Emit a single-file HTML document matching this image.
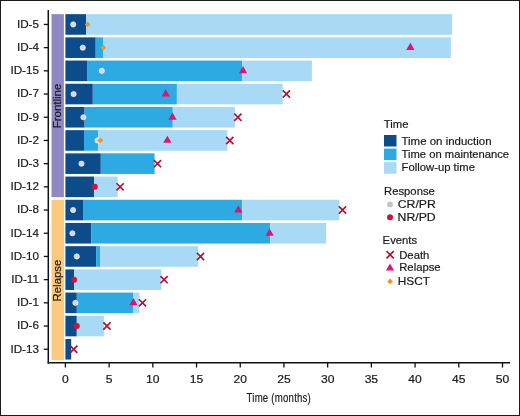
<!DOCTYPE html>
<html><head><meta charset="utf-8"><style>
html,body{margin:0;padding:0;background:#fff;}
body{width:520px;height:416px;overflow:hidden;}
svg{display:block;font-family:"Liberation Sans",sans-serif;will-change:transform;}
text{fill:#1a1a1a;stroke:#1a1a1a;stroke-width:0.2px;}
</style></head><body>
<svg width="520" height="416" viewBox="0 0 520 416">
<rect x="0" y="0" width="520" height="416" fill="#fff"/>
<rect x="51.5" y="14.15" width="12.4" height="183" fill="#8f88c2"/>
<rect x="51.5" y="199.75" width="12.6" height="160.4" fill="#fdc97f"/>
<text transform="translate(60.6 106) rotate(-90) scale(1.0 1.03)" text-anchor="middle" font-size="11.5">Frontline</text>
<text transform="translate(60.6 280.55) rotate(-90) scale(1.0 1.03)" text-anchor="middle" font-size="11.4">Relapse</text>
<rect x="65.4" y="14.15" width="20.8" height="20.6" fill="#0d4c8a"/>
<rect x="86.2" y="14.15" width="366" height="20.6" fill="#a8d9f5"/>
<circle cx="73.2" cy="24.45" r="2.6" fill="#d6d8de" stroke="#f2f4f8" stroke-width="0.7"/>
<path d="M87.6 21.6L90.45 24.45L87.6 27.3L84.75 24.45Z" fill="#f0952a"/>
<text transform="translate(39 28.25) scale(1.035 1.02)" text-anchor="end" font-size="11.3">ID-5</text>
<line x1="43.8" y1="24.45" x2="48" y2="24.45" stroke="#111" stroke-width="1.3"/>
<rect x="65.4" y="37.35" width="30.3" height="20.6" fill="#0d4c8a"/>
<rect x="95.7" y="37.35" width="7.3" height="20.6" fill="#2eaae3"/>
<rect x="103" y="37.35" width="347.8" height="20.6" fill="#a8d9f5"/>
<circle cx="82.8" cy="47.65" r="2.6" fill="#d6d8de" stroke="#f2f4f8" stroke-width="0.7"/>
<path d="M103.3 44.8L106.15 47.65L103.3 50.5L100.45 47.65Z" fill="#f0952a"/>
<path d="M410.4 42.85L414.56 50.05L406.24 50.05Z" fill="#dc1478"/>
<text transform="translate(39 50.95) scale(1.035 1.02)" text-anchor="end" font-size="11.3">ID-4</text>
<line x1="43.8" y1="47.65" x2="48" y2="47.65" stroke="#111" stroke-width="1.3"/>
<rect x="65.4" y="60.55" width="21.6" height="20.6" fill="#0d4c8a"/>
<rect x="87" y="60.55" width="155.1" height="20.6" fill="#2eaae3"/>
<rect x="242.1" y="60.55" width="69.8" height="20.6" fill="#a8d9f5"/>
<circle cx="101.8" cy="70.85" r="2.6" fill="#d6d8de" stroke="#f2f4f8" stroke-width="0.7"/>
<path d="M243 66.05L247.16 73.25L238.84 73.25Z" fill="#dc1478"/>
<text transform="translate(39 74.15) scale(1.035 1.02)" text-anchor="end" font-size="11.3">ID-15</text>
<line x1="43.8" y1="70.85" x2="48" y2="70.85" stroke="#111" stroke-width="1.3"/>
<rect x="65.4" y="83.75" width="27.4" height="20.6" fill="#0d4c8a"/>
<rect x="92.8" y="83.75" width="84.1" height="20.6" fill="#2eaae3"/>
<rect x="176.9" y="83.75" width="105.7" height="20.6" fill="#a8d9f5"/>
<circle cx="73.6" cy="94.05" r="2.6" fill="#d6d8de" stroke="#f2f4f8" stroke-width="0.7"/>
<path d="M165.7 89.25L169.86 96.45L161.54 96.45Z" fill="#dc1478"/>
<path d="M282.8 90.45L290 97.65M290 90.45L282.8 97.65" stroke="#b40f32" stroke-width="1.65" fill="none"/>
<text transform="translate(39 97.35) scale(1.035 1.02)" text-anchor="end" font-size="11.3">ID-7</text>
<line x1="43.8" y1="94.05" x2="48" y2="94.05" stroke="#111" stroke-width="1.3"/>
<rect x="65.4" y="106.95" width="19.2" height="20.6" fill="#0d4c8a"/>
<rect x="84.6" y="106.95" width="88.2" height="20.6" fill="#2eaae3"/>
<rect x="172.8" y="106.95" width="62.1" height="20.6" fill="#a8d9f5"/>
<circle cx="83.4" cy="117.25" r="2.6" fill="#d6d8de" stroke="#f2f4f8" stroke-width="0.7"/>
<path d="M172.5 112.45L176.66 119.65L168.34 119.65Z" fill="#dc1478"/>
<path d="M234.3 113.65L241.5 120.85M241.5 113.65L234.3 120.85" stroke="#b40f32" stroke-width="1.65" fill="none"/>
<text transform="translate(39 120.55) scale(1.035 1.02)" text-anchor="end" font-size="11.3">ID-9</text>
<line x1="43.8" y1="117.25" x2="48" y2="117.25" stroke="#111" stroke-width="1.3"/>
<rect x="65.4" y="130.15" width="18.6" height="20.6" fill="#0d4c8a"/>
<rect x="84" y="130.15" width="14.2" height="20.6" fill="#2eaae3"/>
<rect x="98.2" y="130.15" width="129.2" height="20.6" fill="#a8d9f5"/>
<circle cx="97.5" cy="140.45" r="2.6" fill="#d6d8de" stroke="#f2f4f8" stroke-width="0.7"/>
<path d="M100.3 137.6L103.15 140.45L100.3 143.3L97.45 140.45Z" fill="#f0952a"/>
<path d="M167.4 135.65L171.56 142.85L163.24 142.85Z" fill="#dc1478"/>
<path d="M226.2 136.85L233.4 144.05M233.4 136.85L226.2 144.05" stroke="#b40f32" stroke-width="1.65" fill="none"/>
<text transform="translate(39 143.75) scale(1.035 1.02)" text-anchor="end" font-size="11.3">ID-2</text>
<line x1="43.8" y1="140.45" x2="48" y2="140.45" stroke="#111" stroke-width="1.3"/>
<rect x="65.4" y="153.35" width="35.4" height="20.6" fill="#0d4c8a"/>
<rect x="100.8" y="153.35" width="53.8" height="20.6" fill="#2eaae3"/>
<circle cx="81.5" cy="163.65" r="2.6" fill="#d6d8de" stroke="#f2f4f8" stroke-width="0.7"/>
<path d="M153.9 160.05L161.1 167.25M161.1 160.05L153.9 167.25" stroke="#b40f32" stroke-width="1.65" fill="none"/>
<text transform="translate(39 166.95) scale(1.035 1.02)" text-anchor="end" font-size="11.3">ID-3</text>
<line x1="43.8" y1="163.65" x2="48" y2="163.65" stroke="#111" stroke-width="1.3"/>
<rect x="65.4" y="176.55" width="28.6" height="20.6" fill="#0d4c8a"/>
<rect x="94" y="176.55" width="23.7" height="20.6" fill="#a8d9f5"/>
<circle cx="94.8" cy="186.85" r="3.0" fill="#d80f38"/>
<path d="M116.5 183.25L123.7 190.45M123.7 183.25L116.5 190.45" stroke="#b40f32" stroke-width="1.65" fill="none"/>
<text transform="translate(39 190.15) scale(1.035 1.02)" text-anchor="end" font-size="11.3">ID-12</text>
<line x1="43.8" y1="186.85" x2="48" y2="186.85" stroke="#111" stroke-width="1.3"/>
<rect x="65.4" y="199.75" width="18.2" height="20.6" fill="#0d4c8a"/>
<rect x="83.6" y="199.75" width="158.6" height="20.6" fill="#2eaae3"/>
<rect x="242.2" y="199.75" width="97.2" height="20.6" fill="#a8d9f5"/>
<circle cx="73.1" cy="210.05" r="2.6" fill="#d6d8de" stroke="#f2f4f8" stroke-width="0.7"/>
<path d="M238.4 205.25L242.56 212.45L234.24 212.45Z" fill="#dc1478"/>
<path d="M338.9 206.45L346.1 213.65M346.1 206.45L338.9 213.65" stroke="#b40f32" stroke-width="1.65" fill="none"/>
<text transform="translate(39 213.35) scale(1.035 1.02)" text-anchor="end" font-size="11.3">ID-8</text>
<line x1="43.8" y1="210.05" x2="48" y2="210.05" stroke="#111" stroke-width="1.3"/>
<rect x="65.4" y="222.95" width="25.8" height="20.6" fill="#0d4c8a"/>
<rect x="91.2" y="222.95" width="179" height="20.6" fill="#2eaae3"/>
<rect x="270.2" y="222.95" width="56" height="20.6" fill="#a8d9f5"/>
<circle cx="72.4" cy="233.25" r="2.6" fill="#d6d8de" stroke="#f2f4f8" stroke-width="0.7"/>
<path d="M269.6 228.45L273.76 235.65L265.44 235.65Z" fill="#dc1478"/>
<text transform="translate(39 236.55) scale(1.035 1.02)" text-anchor="end" font-size="11.3">ID-14</text>
<line x1="43.8" y1="233.25" x2="48" y2="233.25" stroke="#111" stroke-width="1.3"/>
<rect x="65.4" y="246.15" width="30.7" height="20.6" fill="#0d4c8a"/>
<rect x="96.1" y="246.15" width="4" height="20.6" fill="#2eaae3"/>
<rect x="100.1" y="246.15" width="98.1" height="20.6" fill="#a8d9f5"/>
<circle cx="76.8" cy="256.45" r="2.6" fill="#d6d8de" stroke="#f2f4f8" stroke-width="0.7"/>
<path d="M196.9 252.85L204.1 260.05M204.1 252.85L196.9 260.05" stroke="#b40f32" stroke-width="1.65" fill="none"/>
<text transform="translate(39 259.75) scale(1.035 1.02)" text-anchor="end" font-size="11.3">ID-10</text>
<line x1="43.8" y1="256.45" x2="48" y2="256.45" stroke="#111" stroke-width="1.3"/>
<rect x="65.4" y="269.35" width="8.7" height="20.6" fill="#0d4c8a"/>
<rect x="74.1" y="269.35" width="87.3" height="20.6" fill="#a8d9f5"/>
<circle cx="74.1" cy="279.65" r="3.0" fill="#d80f38"/>
<path d="M160.5 276.05L167.7 283.25M167.7 276.05L160.5 283.25" stroke="#b40f32" stroke-width="1.65" fill="none"/>
<text transform="translate(39 282.95) scale(1.035 1.02)" text-anchor="end" font-size="11.3">ID-11</text>
<line x1="43.8" y1="279.65" x2="48" y2="279.65" stroke="#111" stroke-width="1.3"/>
<rect x="65.4" y="292.55" width="11.4" height="20.6" fill="#0d4c8a"/>
<rect x="76.8" y="292.55" width="56.6" height="20.6" fill="#2eaae3"/>
<rect x="133.4" y="292.55" width="6" height="20.6" fill="#a8d9f5"/>
<circle cx="75.4" cy="302.85" r="2.6" fill="#d6d8de" stroke="#f2f4f8" stroke-width="0.7"/>
<path d="M133.4 298.05L137.56 305.25L129.24 305.25Z" fill="#dc1478"/>
<path d="M138.9 299.25L146.1 306.45M146.1 299.25L138.9 306.45" stroke="#b40f32" stroke-width="1.65" fill="none"/>
<text transform="translate(39 306.15) scale(1.035 1.02)" text-anchor="end" font-size="11.3">ID-1</text>
<line x1="43.8" y1="302.85" x2="48" y2="302.85" stroke="#111" stroke-width="1.3"/>
<rect x="65.4" y="315.75" width="11.4" height="20.6" fill="#0d4c8a"/>
<rect x="76.8" y="315.75" width="27.1" height="20.6" fill="#a8d9f5"/>
<circle cx="76.8" cy="326.05" r="3.0" fill="#d80f38"/>
<path d="M103.3 322.45L110.5 329.65M110.5 322.45L103.3 329.65" stroke="#b40f32" stroke-width="1.65" fill="none"/>
<text transform="translate(39 329.35) scale(1.035 1.02)" text-anchor="end" font-size="11.3">ID-6</text>
<line x1="43.8" y1="326.05" x2="48" y2="326.05" stroke="#111" stroke-width="1.3"/>
<rect x="65.4" y="338.95" width="5.8" height="20.6" fill="#0d4c8a"/>
<path d="M70.1 345.65L77.3 352.85M77.3 345.65L70.1 352.85" stroke="#b40f32" stroke-width="1.65" fill="none"/>
<text transform="translate(39 352.55) scale(1.035 1.02)" text-anchor="end" font-size="11.3">ID-13</text>
<line x1="43.8" y1="349.25" x2="48" y2="349.25" stroke="#111" stroke-width="1.3"/>
<line x1="48.3" y1="10" x2="48.3" y2="363.6" stroke="#111" stroke-width="1.5"/>
<line x1="47.6" y1="362.8" x2="510" y2="362.8" stroke="#111" stroke-width="1.5"/>
<line x1="65.4" y1="362.8" x2="65.4" y2="367.5" stroke="#111" stroke-width="1.3"/>
<text transform="translate(65.4 382.5) scale(1.1 1.06)" text-anchor="middle" font-size="11.0">0</text>
<line x1="109.11" y1="362.8" x2="109.11" y2="367.5" stroke="#111" stroke-width="1.3"/>
<text transform="translate(109.11 382.5) scale(1.1 1.06)" text-anchor="middle" font-size="11.0">5</text>
<line x1="152.82" y1="362.8" x2="152.82" y2="367.5" stroke="#111" stroke-width="1.3"/>
<text transform="translate(152.82 382.5) scale(1.1 1.06)" text-anchor="middle" font-size="11.0">10</text>
<line x1="196.53" y1="362.8" x2="196.53" y2="367.5" stroke="#111" stroke-width="1.3"/>
<text transform="translate(196.53 382.5) scale(1.1 1.06)" text-anchor="middle" font-size="11.0">15</text>
<line x1="240.24" y1="362.8" x2="240.24" y2="367.5" stroke="#111" stroke-width="1.3"/>
<text transform="translate(240.24 382.5) scale(1.1 1.06)" text-anchor="middle" font-size="11.0">20</text>
<line x1="283.95" y1="362.8" x2="283.95" y2="367.5" stroke="#111" stroke-width="1.3"/>
<text transform="translate(283.95 382.5) scale(1.1 1.06)" text-anchor="middle" font-size="11.0">25</text>
<line x1="327.66" y1="362.8" x2="327.66" y2="367.5" stroke="#111" stroke-width="1.3"/>
<text transform="translate(327.66 382.5) scale(1.1 1.06)" text-anchor="middle" font-size="11.0">30</text>
<line x1="371.37" y1="362.8" x2="371.37" y2="367.5" stroke="#111" stroke-width="1.3"/>
<text transform="translate(371.37 382.5) scale(1.1 1.06)" text-anchor="middle" font-size="11.0">35</text>
<line x1="415.08" y1="362.8" x2="415.08" y2="367.5" stroke="#111" stroke-width="1.3"/>
<text transform="translate(415.08 382.5) scale(1.1 1.06)" text-anchor="middle" font-size="11.0">40</text>
<line x1="458.79" y1="362.8" x2="458.79" y2="367.5" stroke="#111" stroke-width="1.3"/>
<text transform="translate(458.79 382.5) scale(1.1 1.06)" text-anchor="middle" font-size="11.0">45</text>
<line x1="502.5" y1="362.8" x2="502.5" y2="367.5" stroke="#111" stroke-width="1.3"/>
<text transform="translate(502.5 382.5) scale(1.1 1.06)" text-anchor="middle" font-size="11.0">50</text>
<text transform="translate(278.8 402.1) scale(0.714 1.0)" text-anchor="middle" font-size="13.5" stroke="#111" stroke-width="0.55" letter-spacing="0.3">Time (months)</text>
<text transform="translate(383.8 127.6) scale(1.0 1.03)" font-size="11.3">Time</text>
<rect x="384" y="135" width="12.5" height="11.5" fill="#0d4c8a"/>
<text transform="translate(401.5 144.5) scale(1.015 1.02)" font-size="11.3">Time on induction</text>
<rect x="384" y="148.6" width="12.5" height="11.5" fill="#2eaae3"/>
<text transform="translate(401.5 157.7) scale(0.995 1.02)" font-size="11.3">Time on maintenance</text>
<rect x="384" y="162.2" width="12.5" height="11.5" fill="#a8d9f5"/>
<text transform="translate(401.5 170.9) scale(1.0 1.02)" font-size="11.3">Follow-up time</text>
<text transform="translate(384 194.8) scale(1.0 1.03)" font-size="11.3">Response</text>
<circle cx="390" cy="204.4" r="2.9" fill="#c4c4c6"/>
<text transform="translate(397.7 207.8) scale(1.085 1.0)" font-size="11.3">CR/PR</text>
<circle cx="390" cy="217.3" r="3.0" fill="#d80f38"/>
<text transform="translate(397.6 220.8) scale(1.085 1.0)" font-size="11.3">NR/PD</text>
<text transform="translate(382.6 243.6) scale(1.0 1.03)" font-size="11.3">Events</text>
<path d="M386.5 251.1L393.7 258.3M393.7 251.1L386.5 258.3" stroke="#b40f32" stroke-width="1.65" fill="none"/>
<text transform="translate(399.2 258.5)" font-size="11.3">Death</text>
<path d="M390 263.4L394.16 270.6L385.84 270.6Z" fill="#dc1478"/>
<text transform="translate(399.2 270.6)" font-size="11.3">Relapse</text>
<path d="M390.1 278.55L392.95 281.4L390.1 284.25L387.25 281.4Z" fill="#f0952a"/>
<text transform="translate(397.7 284.9) scale(1.05 1.0)" font-size="11.3">HSCT</text>
<rect x="0.5" y="0.5" width="519" height="415" fill="none" stroke="#1c1c1c" stroke-width="1"/>
</svg>
</body></html>
